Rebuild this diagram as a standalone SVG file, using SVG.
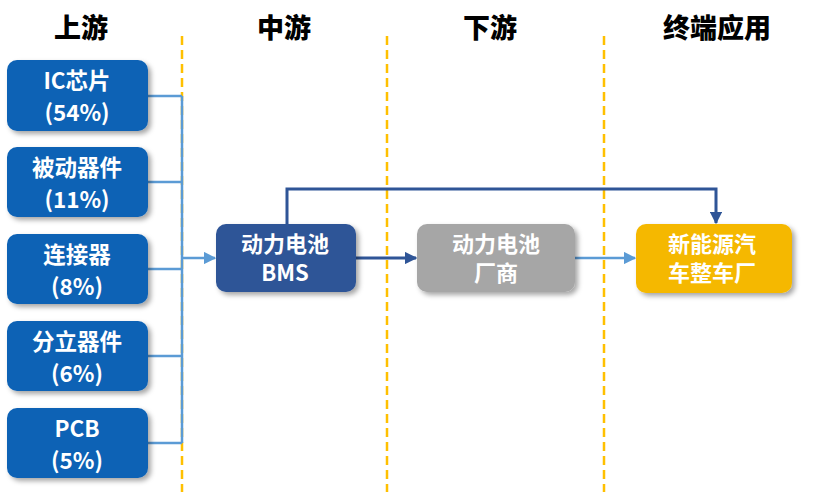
<svg xmlns="http://www.w3.org/2000/svg" width="817" height="504" viewBox="0 0 817 504">
<style>
.hdr{font-family:"Noto Sans CJK SC","Noto Sans",sans-serif;font-weight:900;font-size:27px;fill:#000;text-anchor:middle}
.lbl{font-family:"Noto Sans CJK SC","Noto Sans",sans-serif;font-weight:bold;font-size:22.5px;fill:#fff;text-anchor:middle}
.mid{font-size:22px}
.div{stroke:#FFC000;stroke-width:2.5;stroke-dasharray:9,5;fill:none}
.lb{stroke:#5B9BD5;stroke-width:2.5;fill:none}
.db{stroke:#2F5597;stroke-width:3;fill:none}
.box{stroke:none}
</style>
<defs>
<filter id="sh" x="-10%" y="-10%" width="130%" height="140%">
<feDropShadow dx="3" dy="3" stdDeviation="2.5" flood-color="#000" flood-opacity="0.35"/>
</filter>
<marker id="al" viewBox="0 0 10 10" refX="9" refY="5" markerWidth="5" markerHeight="5" orient="auto" markerUnits="strokeWidth"><path d="M0,0L10,5L0,10z" fill="#5B9BD5"/></marker>
<marker id="ad" viewBox="0 0 10 10" refX="9" refY="5" markerWidth="4.2" markerHeight="4.2" orient="auto" markerUnits="strokeWidth"><path d="M0,0L10,5L0,10z" fill="#2F5597"/></marker>
</defs>
<rect width="817" height="504" fill="#fff"/>
<g id="headers">
<text class="hdr" x="81" y="38">上游</text>
<text class="hdr" x="284" y="38">中游</text>
<text class="hdr" x="490" y="38">下游</text>
<text class="hdr" x="717" y="38">终端应用</text>
</g>
<g id="dividers">
<line class="div" x1="182" y1="36" x2="182" y2="492"/>
<line class="div" x1="387" y1="36" x2="387" y2="492"/>
<line class="div" x1="604" y1="36" x2="604" y2="492"/>
</g>
<g id="connectors">
<line class="lb" x1="148" y1="96" x2="182" y2="96"/>
<line class="lb" x1="148" y1="182" x2="182" y2="182"/>
<line class="lb" x1="148" y1="269" x2="182" y2="269"/>
<line class="lb" x1="148" y1="356" x2="182" y2="356"/>
<line class="lb" x1="148" y1="443" x2="182" y2="443"/>
<line class="lb" x1="182" y1="96" x2="182" y2="443"/>
<line class="lb" x1="182" y1="258" x2="215" y2="258" marker-end="url(#al)"/>
<line class="db" x1="356" y1="258" x2="416" y2="258" marker-end="url(#ad)"/>
<line class="lb" x1="575" y1="258" x2="635" y2="258" marker-end="url(#al)"/>
<polyline class="db" points="287,224 287,189 716,189 716,223" marker-end="url(#ad)"/>
</g>
<g id="n1"><rect class="box" x="7" y="60" width="141" height="71" rx="10" fill="#0E62B5" filter="url(#sh)"/><text class="lbl" x="77" y="89">IC芯片</text><text class="lbl" x="77" y="121">(54%)</text></g>
<g id="n2"><rect class="box" x="7" y="147" width="141" height="70" rx="10" fill="#0E62B5" filter="url(#sh)"/><text class="lbl" x="77" y="176">被动器件</text><text class="lbl" x="77" y="208">(11%)</text></g>
<g id="n3"><rect class="box" x="7" y="234" width="141" height="70" rx="10" fill="#0E62B5" filter="url(#sh)"/><text class="lbl" x="77" y="263">连接器</text><text class="lbl" x="77" y="295">(8%)</text></g>
<g id="n4"><rect class="box" x="7" y="321" width="141" height="70" rx="10" fill="#0E62B5" filter="url(#sh)"/><text class="lbl" x="77" y="350">分立器件</text><text class="lbl" x="77" y="382">(6%)</text></g>
<g id="n5"><rect class="box" x="7" y="408" width="141" height="70" rx="10" fill="#0E62B5" filter="url(#sh)"/><text class="lbl" x="77" y="437">PCB</text><text class="lbl" x="77" y="469">(5%)</text></g>
<g id="bms"><rect class="box" x="216" y="224" width="140" height="68" rx="10" fill="#2F5597" filter="url(#sh)"/><text class="lbl mid" x="285" y="252">动力电池</text><text class="lbl mid" x="285" y="281">BMS</text></g>
<g id="cell"><rect class="box" x="417" y="224" width="158" height="68" rx="10" fill="#A6A6A6" filter="url(#sh)"/><text class="lbl mid" x="496" y="252">动力电池</text><text class="lbl mid" x="496" y="281">厂商</text></g>
<g id="oem"><rect class="box" x="636" y="224" width="156" height="69" rx="10" fill="#F5B800" filter="url(#sh)"/><text class="lbl mid" x="712" y="252">新能源汽</text><text class="lbl mid" x="712" y="281">车整车厂</text></g>
</svg>
